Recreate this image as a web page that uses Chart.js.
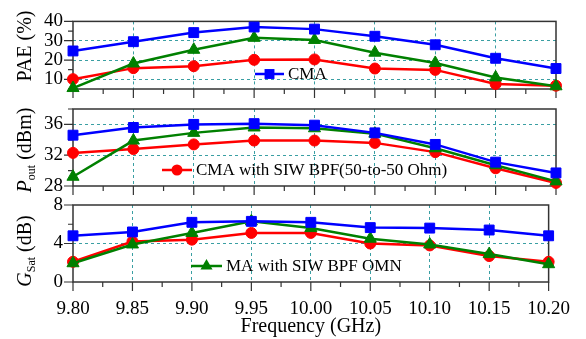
<!DOCTYPE html>
<html>
<head>
<meta charset="utf-8">
<script src="https://cdn.jsdelivr.net/npm/chart.js@4.4.1/dist/chart.umd.min.js"></script>
<style>
  body { margin: 0; background: #fff; }
  #wrap { position: relative; width: 586px; height: 339px; }
  #wrap canvas { position: absolute; left: 0; top: 0; }
</style>
</head>
<body>
<div id="wrap">
  <canvas id="paeChart" width="586" height="339"></canvas>
  <canvas id="poutChart" width="586" height="339"></canvas>
  <canvas id="gsatChart" width="586" height="339"></canvas>
</div>
<script>
// frequency points (GHz)
const FREQ = [9.80, 9.85, 9.90, 9.95, 10.00, 10.05, 10.10, 10.15, 10.20];

// PAE (%)
const PAE_CMA     = [24.7, 29.5, 34.2, 37.1, 36.0, 32.3, 27.9, 20.9, 15.6];
const PAE_CMA_BPF = [10.1, 15.8, 16.8, 20.1, 20.3, 15.6, 14.9, 7.6, 6.7];
const PAE_MA_OMN  = [5.5, 18.2, 25.3, 31.5, 30.4, 23.8, 18.5, 11.0, 6.4];

// Pout (dBm)
const POUT_CMA     = [34.6, 35.6, 36.0, 36.1, 35.9, 34.9, 33.4, 31.1, 29.7];
const POUT_CMA_BPF = [32.3, 32.8, 33.4, 33.9, 33.9, 33.6, 32.4, 30.3, 28.4];
const POUT_MA_OMN  = [29.2, 33.9, 34.9, 35.6, 35.5, 34.8, 32.9, 30.7, 28.6];

// GSat (dB)
const GSAT_CMA     = [4.8, 5.2, 6.2, 6.3, 6.2, 5.65, 5.6, 5.4, 4.8];
const GSAT_CMA_BPF = [2.1, 4.2, 4.4, 5.1, 5.1, 4.0, 3.8, 2.7, 2.1];
const GSAT_MA_OMN  = [1.95, 3.9, 5.1, 6.3, 5.6, 4.5, 3.9, 2.9, 1.85];

// axis tick labels
const PAE_TICKS  = [10, 20, 30, 40];
const POUT_TICKS = [28, 32, 36];
const GSAT_TICKS = [0, 4, 8];

const SERIES_NAMES = ['CMA', 'MA with SIW BPF OMN', 'CMA with SIW BPF(50-to-50 Ohm)'];

const BLUE = '#0000ff', GREEN = '#008000', RED = '#ff0000';
const GRID = '#3a9fa3';
const AXIS = '#333';
const FONT = 'Liberation Serif';

Chart.defaults.font.family = FONT;
Chart.defaults.color = '#000';

function drawMarker(ctx, style, r, x, y) {
    ctx.beginPath();
    if (style === 'rect') {
        const s = r * Math.SQRT1_2;
        ctx.rect(x - s, y - s, 2 * s, 2 * s);
    } else if (style === 'triangle') {
        ctx.moveTo(x, y - r);
        ctx.lineTo(x + r * 0.866, y + r / 2);
        ctx.lineTo(x - r * 0.866, y + r / 2);
        ctx.closePath();
    } else {
        ctx.arc(x, y, r, 0, Math.PI * 2);
    }
    ctx.fill();
}

const panelDecor = {
    id: 'panelDecor',
    beforeDatasetsDraw(chart, args, opts) {
        const ctx = chart.ctx, a = chart.chartArea;
        const x = chart.scales.x, y = chart.scales.y;
        ctx.save();
        ctx.strokeStyle = AXIS;
        ctx.lineWidth = 1.5;
        ctx.strokeRect(a.left, a.top, a.right - a.left, a.bottom - a.top);

        // tick marks, major + minor
        ctx.lineWidth = 1.2;
        ctx.beginPath();
        FREQ.forEach((f, i) => {
            const px = x.getPixelForValue(f);
            ctx.moveTo(px, a.bottom);
            ctx.lineTo(px, a.bottom + 9);
            if (i < FREQ.length - 1) {
                const mx = x.getPixelForValue((f + FREQ[i + 1]) / 2);
                ctx.moveTo(mx, a.bottom);
                ctx.lineTo(mx, a.bottom + 5);
            }
        });
        const yt = opts.yTicks;
        const half = (yt[1] - yt[0]) / 2;
        const minors = yt.map(v => v + half);
        minors.push(yt[0] - half);
        yt.forEach(v => {
            const py = y.getPixelForValue(v);
            ctx.moveTo(a.left - 9, py);
            ctx.lineTo(a.left, py);
        });
        minors.forEach(v => {
            if (v < y.min || v > y.max) return;
            const py = y.getPixelForValue(v);
            ctx.moveTo(a.left - 5, py);
            ctx.lineTo(a.left, py);
        });
        ctx.stroke();

        // rotated y title with sub-scripts
        const segs = opts.title;
        let w = 0;
        segs.forEach(s => {
            ctx.font = (s.italic ? 'italic ' : '') + s.size + 'px ' + FONT;
            s.w = ctx.measureText(s.text).width;
            w += s.w;
        });
        ctx.translate(opts.titleX, opts.titleY);
        ctx.rotate(-Math.PI / 2);
        ctx.fillStyle = '#000';
        ctx.textBaseline = 'alphabetic';
        let cx = -w / 2;
        segs.forEach(s => {
            ctx.font = (s.italic ? 'italic ' : '') + s.size + 'px ' + FONT;
            ctx.fillText(s.text, cx, s.dy || 0);
            cx += s.w;
        });
        ctx.restore();
    },
    afterDatasetsDraw(chart, args, opts) {
        const ctx = chart.ctx, lg = opts.legend;
        const ds = chart.data.datasets[lg.index];
        ctx.save();
        ctx.strokeStyle = ds.borderColor;
        ctx.lineWidth = ds.borderWidth;
        ctx.beginPath();
        ctx.moveTo(lg.x1, lg.y);
        ctx.lineTo(lg.x2, lg.y);
        ctx.stroke();
        ctx.fillStyle = ds.backgroundColor;
        drawMarker(ctx, ds.pointStyle, ds.pointRadius, (lg.x1 + lg.x2) / 2, lg.y);
        ctx.fillStyle = '#000';
        ctx.font = '17px ' + FONT;
        ctx.textBaseline = 'middle';
        ctx.fillText(ds.label, lg.x2 + 4, lg.y + 1);
        ctx.restore();
    }
};

function series(label, data, color, style, r) {
    return {
        label: label,
        data: data.map((v, i) => ({ x: FREQ[i], y: v })),
        borderColor: color,
        backgroundColor: color,
        borderWidth: 2.5,
        pointStyle: style,
        pointRadius: r,
        pointBackgroundColor: color,
        pointBorderColor: color,
        pointBorderWidth: 1,
        tension: 0,
        clip: false
    };
}

function edgeless(c) {
    const s = c.scale;
    if (!c.tick) return 'transparent';
    const v = c.tick.value;
    return (Math.abs(v - s.min) < 1e-6 || Math.abs(v - s.max) < 1e-6) ? 'transparent' : GRID;
}

function makePanel(p) {
    return new Chart(document.getElementById(p.id), {
        type: 'line',
        data: {
            datasets: [
                series(SERIES_NAMES[0], p.cma, BLUE, 'rect', 7),
                series(SERIES_NAMES[1], p.omn, GREEN, 'triangle', 7),
                series(SERIES_NAMES[2], p.bpf, RED, 'circle', 5.5)
            ]
        },
        options: {
            responsive: false,
            animation: false,
            events: [],
            layout: { padding: { top: p.top, right: 30, left: 0, bottom: p.showX ? 0 : 339 - p.bottom } },
            plugins: {
                legend: { display: false },
                tooltip: { enabled: false },
                panelDecor: { yTicks: p.ticks, title: p.title, titleX: 31, titleY: p.titleY, legend: p.legend }
            },
            scales: {
                x: {
                    type: 'linear',
                    min: 9.8,
                    max: 10.2,
                    afterBuildTicks: s => { s.ticks = FREQ.map(v => ({ value: v })); },
                    afterFit: s => { s.height = p.showX ? 339 - p.bottom : 0; },
                    ticks: {
                        display: p.showX,
                        autoSkip: false,
                        maxRotation: 0,
                        padding: 16,
                        font: { size: 19 },
                        callback: v => v.toFixed(2)
                    },
                    grid: { color: edgeless, drawTicks: false, lineWidth: 1 },
                    border: { display: false, dash: [3, 3] },
                    title: {
                        display: p.showX,
                        text: 'Frequency (GHz)',
                        font: { size: 20 },
                        padding: { top: 0, bottom: 0 }
                    }
                },
                y: {
                    min: p.min,
                    max: p.max,
                    afterBuildTicks: s => { s.ticks = p.ticks.map(v => ({ value: v })); },
                    afterFit: s => { s.width = 73; },
                    ticks: { padding: 10, autoSkip: false, font: { size: 19 }, callback: v => String(v) },
                    grid: { color: edgeless, drawTicks: false, lineWidth: 1 },
                    border: { display: false, dash: [3, 3] }
                }
            }
        },
        plugins: [panelDecor]
    });
}

makePanel({
    id: 'paeChart', cma: PAE_CMA, bpf: PAE_CMA_BPF, omn: PAE_MA_OMN,
    min: 5, max: 40, ticks: PAE_TICKS, top: 12, bottom: 89, showX: false,
    title: [{ text: 'PAE (%)', size: 20 }], titleY: 46,
    legend: { index: 0, x1: 255, x2: 284, y: 74 }
});

makePanel({
    id: 'poutChart', cma: POUT_CMA, bpf: POUT_CMA_BPF, omn: POUT_MA_OMN,
    min: 28, max: 38, ticks: POUT_TICKS, top: 109, bottom: 186, showX: false,
    title: [
        { text: 'P', size: 20, italic: true },
        { text: 'out', size: 12, dy: 4 },
        { text: ' (dBm)', size: 20 }
    ], titleY: 150,
    legend: { index: 2, x1: 162, x2: 192, y: 170 }
});

makePanel({
    id: 'gsatChart', cma: GSAT_CMA, bpf: GSAT_CMA_BPF, omn: GSAT_MA_OMN,
    min: 0, max: 8, ticks: GSAT_TICKS, top: 205, bottom: 282, showX: true,
    title: [
        { text: 'G', size: 20, italic: true },
        { text: 'Sat', size: 12, dy: 4 },
        { text: ' (dB)', size: 20 }
    ], titleY: 251,
    legend: { index: 1, x1: 191, x2: 222, y: 266 }
});
</script>
</body>
</html>
